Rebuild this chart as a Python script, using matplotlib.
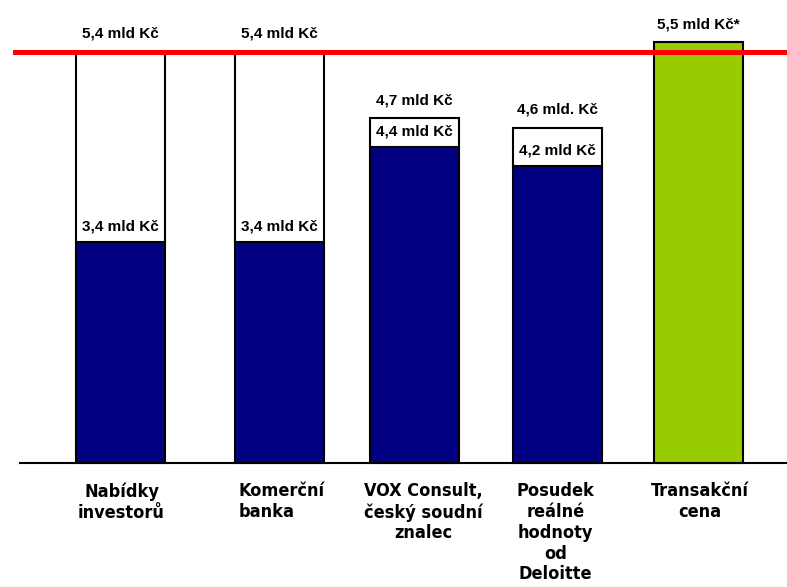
import matplotlib.pyplot as plt
from matplotlib import font_manager

# data
kategorie = ['Nabídky\ninvestorů', 'Komerční\nbanka', 'VOX Consult,\nčeský soudní\nznalec',
             'Posudek\nreálné\nhodnoty\nod\nDeloitte', 'Transakční\ncena']
dolni = [3.4, 3.4, 4.4, 4.2, None]        # mld Kč, spodní hranice
horni = [5.4, 5.4, 4.7, 4.6, 5.5]         # mld Kč, horní hranice / cena
popis_dolni = ['3,4 mld Kč', '3,4 mld Kč', '4,4 mld Kč', '4,2 mld Kč', None]
popis_horni = ['5,4 mld Kč', '5,4 mld Kč', '4,7 mld Kč', '4,6 mld. Kč', '5,5 mld Kč*']

# layout
pozice = [120.5, 279.5, 414, 557.5, 698.5]
sirka = 89
zaklad = 1.08
zarovnani = ['center', 'left', 'center', 'center', 'center']
posun_x = [1, -41, 9, -2, 1]

# uzky font pro popisky kategorii, pokud je k dispozici
nazvy = {f.name for f in font_manager.fontManager.ttflist}
uzky = 'Liberation Sans Narrow' if 'Liberation Sans Narrow' in nazvy else 'DejaVu Sans'

fig = plt.figure(figsize=(7.87, 5.87), dpi=100)
ax = fig.add_axes([0, 0, 1, 1])
ax.set_xlim(0, 787)
ax.set_ylim(-0.22, 5.943)
ax.axis('off')

for i in range(len(kategorie)):
    x = pozice[i]
    if dolni[i] is None:
        ax.bar(x, horni[i] - zaklad, bottom=zaklad, width=sirka, color='#99cc00',
               edgecolor='black', linewidth=1.5, zorder=2)
    else:
        ax.bar(x, dolni[i] - zaklad, bottom=zaklad, width=sirka, color='#000080',
               edgecolor='black', linewidth=1.5, zorder=2)
        ax.bar(x, horni[i] - dolni[i], bottom=dolni[i], width=sirka, color='white',
               edgecolor='black', linewidth=1.5, zorder=2)
        ax.annotate(popis_dolni[i], (x, dolni[i]), xytext=(0, 6), textcoords='offset points',
                    ha='center', va='bottom', fontsize=11, fontweight='bold',
                    family=['Liberation Sans', 'DejaVu Sans'], zorder=4)
    ax.annotate(popis_horni[i], (x, horni[i]), xytext=(0, 8), textcoords='offset points',
                ha='center', va='bottom', fontsize=11, fontweight='bold',
                family=['Liberation Sans', 'DejaVu Sans'], zorder=4)
    ax.text(x + posun_x[i], zaklad - 0.2, kategorie[i], ha=zarovnani[i], va='top',
            multialignment=zarovnani[i], fontsize=13, fontweight='bold',
            fontstretch='condensed', family=uzky, linespacing=1.2)

# zakladni cara a cervena hranice
ax.plot([20, 787], [zaklad, zaklad], color='black', linewidth=1.5, zorder=3)
ax.plot([15, 787], [max(horni[:2]), max(horni[:2])], color='red', linewidth=3.6, zorder=3)

fig.savefig('out.png', dpi=100)
